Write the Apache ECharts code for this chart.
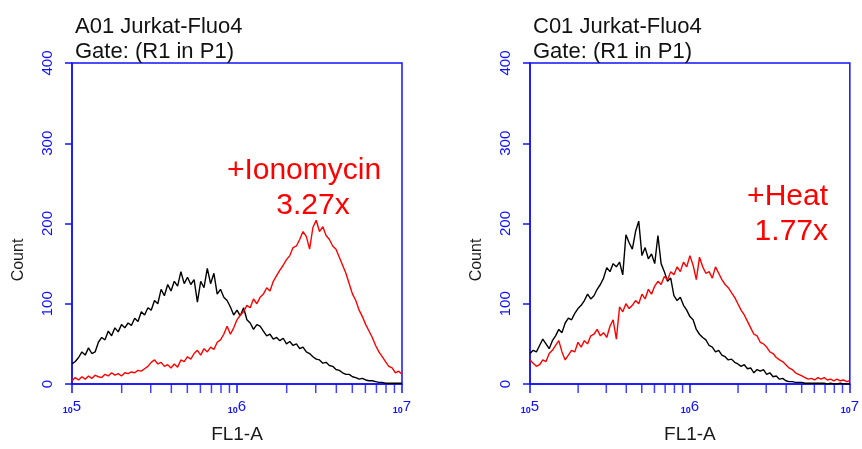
<!DOCTYPE html>
<html>
<head>
<meta charset="utf-8">
<script src="https://cdn.jsdelivr.net/npm/echarts@6/dist/echarts.min.js"></script>
<style>
html,body{margin:0;padding:0;background:#fff;}
#chart{width:862px;height:449px;}
</style>
</head>
<body>
<div id="chart"></div>
<script>
// Histogram bin centres, as log10 of FL1-A intensity
var binExp = [5.00,5.02,5.04,5.06,5.08,5.10,5.12,5.14,5.16,5.18,5.20,5.22,5.24,5.26,5.28,5.30,5.32,5.34,5.36,5.38,
5.40,5.42,5.44,5.46,5.48,5.50,5.52,5.54,5.56,5.58,5.60,5.62,5.64,5.66,5.68,5.70,5.72,5.74,5.76,5.78,
5.80,5.82,5.84,5.86,5.88,5.90,5.92,5.94,5.96,5.98,6.00,6.02,6.04,6.06,6.08,6.10,6.12,6.14,6.16,6.18,
6.20,6.22,6.24,6.26,6.28,6.30,6.32,6.34,6.36,6.38,6.40,6.42,6.44,6.46,6.48,6.50,6.52,6.54,6.56,6.58,
6.60,6.62,6.64,6.66,6.68,6.70,6.72,6.74,6.76,6.78,6.80,6.82,6.84,6.86,6.88,6.90,6.92,6.94,6.96,6.98,7.00];

// A01 control (black) and +Ionomycin (red)
var a01Control = [25,28,33,40,36,45,38,40,52,58,55,66,60,70,65,74,70,76,73,82,
78,90,86,95,92,104,100,118,110,124,116,128,122,140,125,133,124,130,102,128,
120,144,125,138,112,118,108,104,96,86,92,85,95,80,76,68,74,72,66,60,
62,56,58,54,57,50,53,48,50,44,46,40,38,34,31,30,26,27,23,22,
18,17,14,12,12,9,8,6,7,5,4,4,3,2,2,1,1,1,1,1,1];
var a01Ionomycin = [4,8,5,9,6,10,7,11,9,8,12,10,14,11,13,10,14,13,15,14,
17,16,19,22,27,30,25,27,22,24,20,25,21,30,28,34,31,38,42,36,
44,40,46,43,52,55,62,72,62,70,80,86,90,98,95,106,100,108,112,120,
116,128,135,142,148,155,160,170,172,180,190,184,168,195,204,190,196,185,180,172,
168,158,148,138,125,112,104,92,84,74,66,58,48,40,34,28,22,20,14,16,12];

// C01 control (black) and +Heat (red)
var c01Control = [38,42,40,48,56,50,44,54,60,68,64,76,82,80,88,94,98,104,112,106,
110,118,124,132,145,140,150,146,152,136,186,176,168,190,203,160,170,156,162,150,
185,150,140,128,132,110,104,108,98,92,84,80,68,62,58,55,48,46,40,42,
36,34,30,31,27,25,22,24,19,20,14,18,16,18,12,14,9,10,6,7,
4,3,3,2,2,2,1,1,1,1,1,1,1,0,1,0,0,1,0,0,0];
var c01Heat = [30,26,22,24,30,28,38,42,48,54,40,30,36,42,40,52,46,54,50,60,
62,68,60,64,58,72,80,56,96,90,100,94,98,104,100,112,106,118,112,122,
128,124,134,130,140,136,146,140,152,146,160,148,130,158,146,138,140,132,146,138,
130,124,120,114,108,100,92,86,78,70,62,60,52,50,46,40,38,33,30,28,
24,20,18,14,12,10,8,6,7,5,8,6,8,5,6,4,6,4,5,3,4];

// Axis ticks
var majorTicks = [1e5, 1e6, 1e7];
var minorTicks = [2e5,3e5,4e5,5e5,6e5,7e5,8e5,9e5,2e6,3e6,4e6,5e6,6e6,7e6,8e6,9e6];
var yTicks = [0, 100, 200, 300, 400];

var panelTitles = ["A01 Jurkat-Fluo4\nGate: (R1 in P1)", "C01 Jurkat-Fluo4\nGate: (R1 in P1)"];
var panelNotes = [["+Ionomycin", "3.27x"], ["+Heat", "1.77x"]];

var BLUE = '#1010ff';
var FONT = 'Liberation Sans, Arial, sans-serif';

function pairs(vals) {
  return vals.map(function (v, i) { return [Math.pow(10, binExp[i]), v]; });
}

var grids = [
  {left: 72, top: 63, width: 330, height: 331},
  {left: 530, top: 63, width: 329, height: 332}
];

function xAx(idx) {
  return {
    type: 'log', logBase: 10, gridIndex: idx, min: majorTicks[0], max: majorTicks[2],
    name: 'FL1-A', nameLocation: 'middle', nameGap: 41,
    nameTextStyle: {color: '#1a1a1a', fontSize: 19, fontFamily: FONT},
    axisLine: {show: true, lineStyle: {color: BLUE, width: 1.5}},
    axisTick: {show: true, inside: false, length: 9, lineStyle: {color: BLUE, width: 1.5}},
    splitLine: {show: false},
    axisLabel: {
      margin: 15,
      formatter: function (v) { return '{b|10}{e|' + Math.round(Math.log10(v)) + '}'; },
      rich: {
        b: {fontSize: 9, color: BLUE, fontFamily: FONT, fontWeight: 'bold', verticalAlign: 'bottom', lineHeight: 16},
        e: {fontSize: 15, color: BLUE, fontFamily: FONT, verticalAlign: 'top', lineHeight: 16}
      }
    }
  };
}
function yAx(idx) {
  return {
    type: 'value', gridIndex: idx, min: yTicks[0], max: yTicks[yTicks.length - 1], interval: 100,
    axisLine: {show: true, lineStyle: {color: BLUE, width: 1.5}},
    axisTick: {show: true, inside: false, length: 7, lineStyle: {color: BLUE, width: 1.5}},
    splitLine: {show: false},
    axisLabel: {rotate: 90, margin: 17, color: BLUE, fontSize: 15, fontFamily: FONT}
  };
}

function minorSeries(idx) {
  return {
    type: 'scatter', xAxisIndex: idx, yAxisIndex: idx, silent: true, clip: false,
    symbol: 'rect', symbolSize: [1.5, 9], symbolOffset: [0, 4.5],
    itemStyle: {color: BLUE}, z: 1,
    data: minorTicks.map(function (v) { return [v, 0]; })
  };
}
function lineSeries(idx, vals, color) {
  return {
    type: 'line', xAxisIndex: idx, yAxisIndex: idx, showSymbol: false, silent: true,
    lineStyle: {color: color, width: 1.4}, data: pairs(vals), z: 3
  };
}

var chart = echarts.init(document.getElementById('chart'), null, {renderer: 'canvas'});
chart.setOption({
  animation: false,
  backgroundColor: '#fff',
  title: [0, 1].map(function (i) {
    return {
      text: panelTitles[i], left: grids[i].left - 2, top: 9,
      textStyle: {fontSize: 22, lineHeight: 25, fontWeight: 'normal', color: '#111', fontFamily: FONT}
    };
  }),
  grid: grids.map(function (g) {
    return Object.assign({show: true, borderColor: BLUE, borderWidth: 1.5, containLabel: false}, g);
  }),
  xAxis: [xAx(0), xAx(1)],
  yAxis: [yAx(0), yAx(1)],
  series: [
    minorSeries(0), minorSeries(1),
    lineSeries(0, a01Control, '#000'),
    lineSeries(0, a01Ionomycin, '#ff0000'),
    lineSeries(1, c01Control, '#000'),
    lineSeries(1, c01Heat, '#ff0000')
  ],
  graphic: [
    {type: 'text', x: 19, y: 260, rotation: Math.PI / 2,
     style: {text: 'Count', fontSize: 16, fontFamily: FONT, fill: '#1a1a1a', textAlign: 'center', textVerticalAlign: 'middle'}},
    {type: 'text', x: 477, y: 260, rotation: Math.PI / 2,
     style: {text: 'Count', fontSize: 16, fontFamily: FONT, fill: '#1a1a1a', textAlign: 'center', textVerticalAlign: 'middle'}},
    {type: 'text', x: 304, y: 171,
     style: {text: panelNotes[0][0], fontSize: 30, fontFamily: FONT, fill: '#ff0000', textAlign: 'center', textVerticalAlign: 'middle'}},
    {type: 'text', x: 313, y: 206,
     style: {text: panelNotes[0][1], fontSize: 30, fontFamily: FONT, fill: '#ff0000', textAlign: 'center', textVerticalAlign: 'middle'}},
    {type: 'text', x: 828, y: 197,
     style: {text: panelNotes[1][0], fontSize: 30, fontFamily: FONT, fill: '#ff0000', textAlign: 'right', textVerticalAlign: 'middle'}},
    {type: 'text', x: 828, y: 232,
     style: {text: panelNotes[1][1], fontSize: 30, fontFamily: FONT, fill: '#ff0000', textAlign: 'right', textVerticalAlign: 'middle'}}
  ]
});
</script>
</body>
</html>
